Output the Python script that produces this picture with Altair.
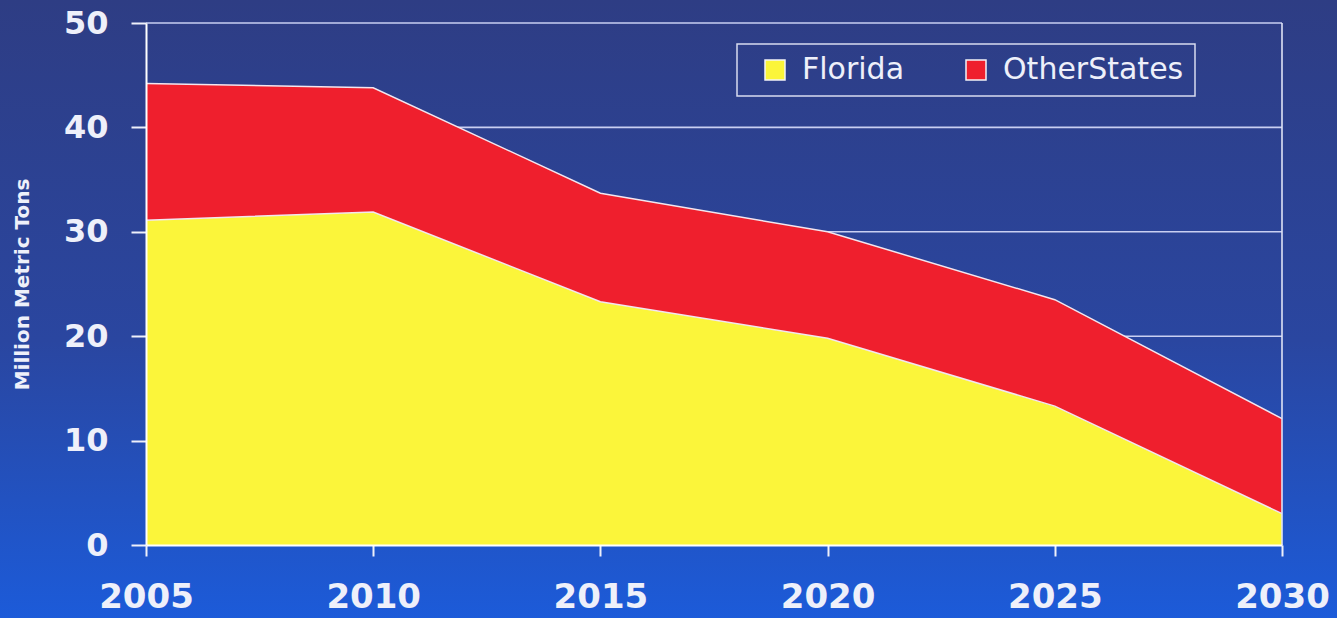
import altair as alt
import pandas as pd

years = [2005, 2010, 2015, 2020, 2025, 2030]
florida = [31.1, 31.9, 23.3, 19.8, 13.3, 3.0]
other_states = [13.1, 11.9, 10.4, 10.2, 10.2, 9.1]
series = ["Florida", "OtherStates"]
colors = ["#fbf53a", "#ef1f2d"]
y_ticks = [0, 10, 20, 30, 40, 50]
grid_values = [10, 20, 30, 40, 50]

W, H = 1136, 522
PAD_L, PAD_T, PAD_R, PAD_B = 146, 23, 55, 73

rows = []
for i, y in enumerate(years):
    rows.append({"year": y, "series": "Florida", "value": florida[i], "ord": 0})
    rows.append({"year": y, "series": "OtherStates", "value": other_states[i], "ord": 1})
df = pd.DataFrame(rows)

font = "DejaVu Sans"

bg = alt.Chart(pd.DataFrame({"a": [0]})).mark_rect(
    color=alt.LinearGradient(
        gradient="linear",
        stops=[
            alt.GradientStop(color="#2e3d84", offset=0),
            alt.GradientStop(color="#2a46a0", offset=0.55),
            alt.GradientStop(color="#1c5bd9", offset=1),
        ],
        x1=0, x2=0, y1=0, y2=1,
    )
).encode(
    x=alt.value(-PAD_L), x2=alt.value(W + PAD_R),
    y=alt.value(-PAD_T), y2=alt.value(H + PAD_B),
)

grid = alt.Chart(pd.DataFrame({"v": grid_values})).mark_rule(
    color="#c9cff2", strokeWidth=1.6
).encode(
    y=alt.Y("v:Q", scale=alt.Scale(domain=[0, 50], nice=False)),
    x=alt.value(0), x2=alt.value(W),
)

xenc = alt.X(
    "year:Q",
    scale=alt.Scale(domain=[2005, 2030], nice=False, zero=False),
    axis=alt.Axis(
        values=years, format="d", title=None, grid=False, zindex=1,
        labelFont=font, labelFontWeight="bold", labelFontSize=34,
        labelColor="#eef0fa", labelPadding=24, tickSize=11, tickWidth=2,
        tickColor="#eef0fa", domainColor="#ffffff", domainWidth=2,
        labelBaseline="top", labelFlush=False, labelOverlap=False,
    ),
)
yenc = alt.Y(
    "value:Q", stack="zero",
    scale=alt.Scale(domain=[0, 50], nice=False),
    axis=alt.Axis(
        values=y_ticks, title="Million Metric Tons", grid=False, zindex=1,
        labelFont=font, labelFontWeight="bold", labelFontSize=32,
        labelColor="#eef0fa", labelPadding=23, tickSize=15, tickWidth=2,
        tickColor="#eef0fa", domainColor="#ffffff", domainWidth=2,
        titleFont=font, titleFontWeight="bold", titleFontSize=20,
        titleColor="#eef0fa", titleX=-124, titleY=H / 2,
        titleAlign="center", titleBaseline="middle", titleAngle=270,
    ),
)

areas = alt.Chart(df).mark_area(opacity=1).encode(
    x=xenc,
    y=yenc,
    color=alt.Color(
        "series:N",
        scale=alt.Scale(domain=series, range=colors),
        legend=alt.Legend(
            title=None, orient="none", legendX=591, legendY=21,
            direction="horizontal", symbolType="square", symbolSize=400,
            symbolStrokeColor="#f4f4f8", symbolStrokeWidth=1.5,
            symbolOpacity=1, labelFont=font, labelFontSize=30,
            labelColor="#eef0fa", labelOffset=12, columnPadding=44,
            padding=11, symbolOffset=12, strokeColor="#d8dcef",
            labelLimit=400,
        ),
    ),
    order=alt.Order("ord:Q"),
)

edges = alt.Chart(df).mark_line(color="#f3e6ef", strokeWidth=1.5).encode(
    x=alt.X("year:Q", scale=alt.Scale(domain=[2005, 2030], nice=False, zero=False)),
    y=alt.Y("value:Q", stack="zero", scale=alt.Scale(domain=[0, 50], nice=False)),
    detail="series:N",
    order=alt.Order("year:Q"),
)

right_edge = alt.Chart(pd.DataFrame({"a": [0]})).mark_rule(
    color="#dfe3f5", strokeWidth=1.6
).encode(x=alt.value(W), y=alt.value(0), y2=alt.value(H))

chart = alt.layer(bg, grid, areas, edges, right_edge).properties(
    width=W, height=H, padding=0, background="#2a47a0"
).configure_view(stroke=None).configure_legend(strokeWidth=1.5)

chart.save("out.html", embed_options={"renderer": "svg", "actions": False})
